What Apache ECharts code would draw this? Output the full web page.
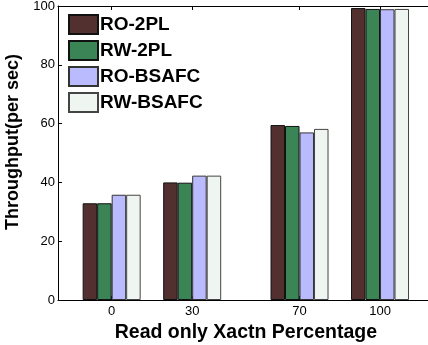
<!DOCTYPE html>
<html>
<head>
<meta charset="utf-8">
<script src="https://cdn.jsdelivr.net/npm/echarts@6/dist/echarts.min.js"></script>
<style>html,body{margin:0;padding:0;background:#fff}#c{width:428px;height:345px}</style>
</head>
<body>
<div id="c"></div>
<script>
const xValues = [0, 30, 70, 100];
const xTickLabels = ['0', '30', '70', '100'];
const seriesNames = ['RO-2PL', 'RW-2PL', 'RO-BSAFC', 'RW-BSAFC'];
const ro2pl = [32.9, 40.0, 59.5, 99.3];
const rw2pl = [32.9, 39.9, 59.2, 99.0];
const roBsafc = [35.8, 42.3, 57.0, 98.9];
const rwBsafc = [35.8, 42.3, 58.2, 99.0];
const yTicks = [0, 20, 40, 60, 80, 100];

const seriesValues = [ro2pl, rw2pl, roBsafc, rwBsafc];
const colors = ['#533030', '#3b8456', '#babaff', '#eff5f0'];
const borders = ['#111', '#111', '#333', '#444'];
const FONT = '"Liberation Sans", Arial, sans-serif';

const chart = echarts.init(document.getElementById('c'), null, {renderer: 'canvas'});
const series = seriesNames.map((name, i) => ({
  name: name,
  type: 'bar',
  xAxisIndex: 0,
  yAxisIndex: 0,
  barWidth: 14.5,
  barGap: '0%',
  data: xValues.map((x, j) => [x, seriesValues[i][j]]),
  itemStyle: {color: colors[i], borderColor: borders[i], borderWidth: 1},
  emphasis: {disabled: true},
  animation: false
}));

const axisLineStyle = {show: true, onZero: false, lineStyle: {color: '#000', width: 1}};
chart.setOption({
  animation: false,
  backgroundColor: '#fff',
  grid: {left: 58, top: 6, width: 375.7, height: 294, containLabel: false, outerBoundsMode: 'none'},
  legend: {
    orient: 'vertical',
    left: 68, top: 14,
    padding: 0,
    itemWidth: 29, itemHeight: 19, itemGap: 5,
    icon: 'rect',
    data: seriesNames,
    textStyle: {fontFamily: FONT, fontWeight: 'bold', fontSize: 19, color: '#000', padding: [0, 0, 0, -3]},
    selectedMode: false
  },
  xAxis: [{
    type: 'value', position: 'bottom', min: -20, max: 120,
    axisLine: axisLineStyle,
    splitLine: {show: false},
    axisTick: {show: true, inside: true, length: 4, customValues: xValues, lineStyle: {color: '#000'}},
    axisLabel: {show: true, customValues: xValues, formatter: v => xTickLabels[xValues.indexOf(v)],
      fontFamily: FONT, fontSize: 13, color: '#000', margin: 5},
    name: 'Read only Xactn Percentage', nameLocation: 'middle', nameGap: 21,
    nameTextStyle: {fontFamily: FONT, fontWeight: 'bold', fontSize: 19.5, color: '#000'}
  }, {
    type: 'value', position: 'top', min: -20, max: 120,
    axisLine: axisLineStyle,
    splitLine: {show: false},
    axisTick: {show: true, inside: true, length: 4, customValues: xValues, lineStyle: {color: '#000'}},
    axisLabel: {show: false}
  }],
  yAxis: [{
    type: 'value', position: 'left', min: 0, max: 100, interval: 20,
    axisLine: axisLineStyle,
    splitLine: {show: false},
    axisTick: {show: true, inside: true, length: 4, lineStyle: {color: '#000'}},
    axisLabel: {fontFamily: FONT, fontSize: 13, color: '#000', margin: 3},
    name: 'Throughput(per sec)', nameLocation: 'middle', nameGap: 31,
    nameTextStyle: {fontFamily: FONT, fontWeight: 'bold', fontSize: 18, color: '#000', padding: [0, 0, 0, 22]}
  }, {
    type: 'value', position: 'right', min: 0, max: 100, interval: 20,
    axisLine: axisLineStyle,
    splitLine: {show: false},
    axisTick: {show: true, inside: true, length: 4, lineStyle: {color: '#000'}},
    axisLabel: {show: false}
  }],
  series: series
});
</script>
</body>
</html>
